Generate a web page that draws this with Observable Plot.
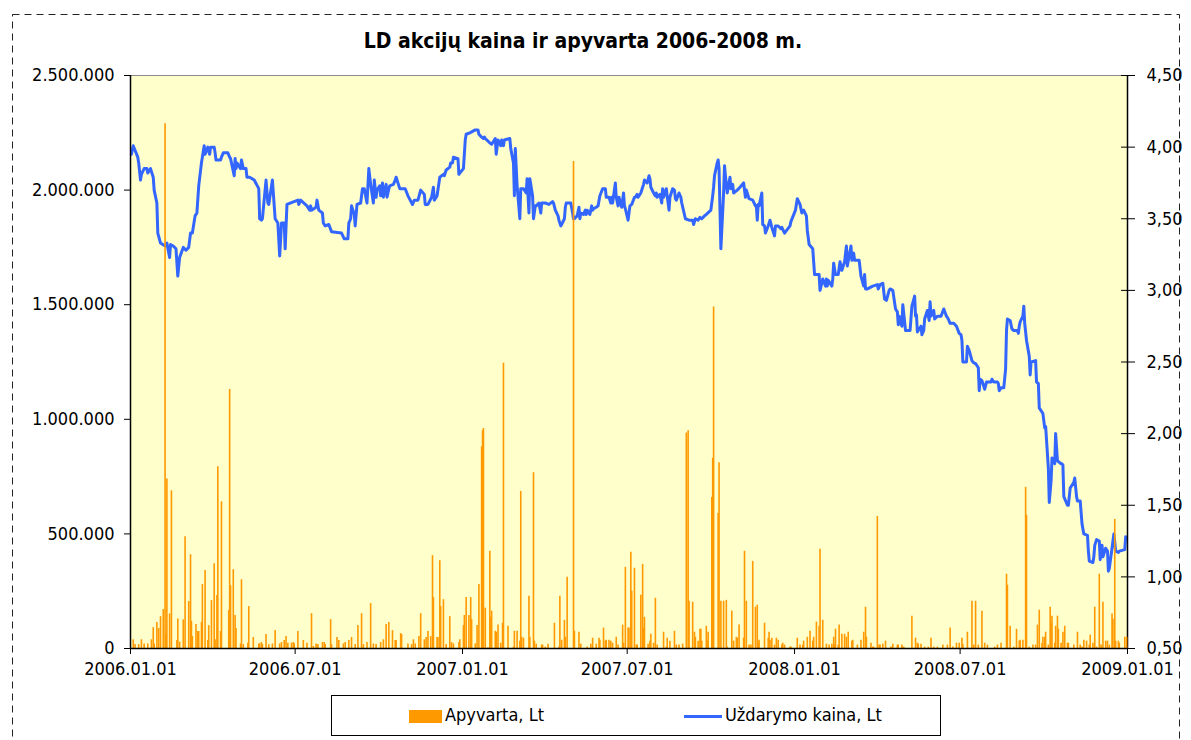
<!DOCTYPE html>
<html>
<head>
<meta charset="utf-8">
<script src="https://cdn.jsdelivr.net/npm/d3@7"></script>
<script src="https://cdn.jsdelivr.net/npm/@observablehq/plot@0.6"></script>
<style>
  html, body { margin: 0; padding: 0; background: #fff; }
  #wrap { position: relative; width: 1191px; height: 740px; overflow: hidden;
          font-family: "DejaVu Sans Condensed", "Liberation Sans", sans-serif; color: #000; }
  #border { position: absolute; left: 0; top: 0; }
  #title { position: absolute; left: 0; width: 1166px; top: 29px; line-height: 24px;
           text-align: center; font-weight: bold; font-size: 21px; }
  .layer { position: absolute; left: 0; top: 0; }
  #legend { position: absolute; left: 331px; top: 695px; width: 608px; height: 39px;
            border: 1px solid #000; background: #fff; font-size: 18px; }
  #legend .sw { position: absolute; left: 77px; top: 14px; width: 33px; height: 13px; background: #FF9900; }
  #legend .ln { position: absolute; left: 352px; top: 19px; width: 38px; height: 3px; background: #3366FF; }
  #legend .t { position: absolute; top: 8px; line-height: 22px; white-space: nowrap; }
</style>
</head>
<body>
<div id="wrap">
  <div id="title">LD akcijų kaina ir apyvarta 2006-2008 m.</div>
  <div id="legend">
    <span class="sw"></span><span class="t" style="left:113px">Apyvarta, Lt</span>
    <span class="ln"></span><span class="t" style="left:393px">Uždarymo kaina, Lt</span>
  </div>
</div>
<script>
// ---------------- data ----------------
const xTicks = ["2006-01-01","2006-07-01","2007-01-01","2007-07-01","2008-01-01","2008-07-01","2009-01-01"];
const volTicks = [0, 500000, 1000000, 1500000, 2000000, 2500000];
const priceTicks = [0.5, 1.0, 1.5, 2.0, 2.5, 3.0, 3.5, 4.0, 4.5];

// Daily turnover, Lt (Apyvarta)
const turnover2006 = [
["2006-01-04",38000],["2006-01-06",17000],["2006-01-10",17000],["2006-01-13",38000],["2006-01-16",20000],["2006-01-20",20000],["2006-01-24",38000],["2006-01-26",91000],["2006-01-27",20000],["2006-01-30",113000],["2006-02-01",87000],["2006-02-03",139000],["2006-02-06",170000],["2006-02-08",2290000],["2006-02-09",61000],["2006-02-10",740000],["2006-02-13",151000],["2006-02-15",688000],["2006-02-21",35000],["2006-02-22",129000],["2006-02-24",28000],["2006-02-28",125000],["2006-03-02",488000],["2006-03-06",205000],["2006-03-08",409000],["2006-03-09",118000],["2006-03-10",52000],["2006-03-14",105000],["2006-03-16",74000],["2006-03-17",74000],["2006-03-20",113000],["2006-03-21",279000],["2006-03-24",340000],["2006-03-27",35000],["2006-03-28",100000],["2006-03-31",209000],["2006-04-03",370000],["2006-04-04",38000],["2006-04-06",231000],["2006-04-07",793000],["2006-04-10",74000],["2006-04-11",640000],["2006-04-19",166000],["2006-04-20",1130000],["2006-04-21",274000],["2006-04-24",344000],["2006-04-26",144000],["2006-04-27",87000],["2006-05-02",20000],["2006-05-03",300000],["2006-05-05",17000],["2006-05-10",23000],["2006-05-11",183000],["2006-05-16",48000],["2006-05-22",20000],["2006-05-23",20000],["2006-05-25",26000],["2006-05-26",17000],["2006-05-30",61000],["2006-06-02",17000],["2006-06-06",20000],["2006-06-09",78000],["2006-06-14",20000],["2006-06-16",26000],["2006-06-19",35000],["2006-06-21",52000],["2006-06-23",23000],["2006-06-27",23000],["2006-06-29",26000],["2006-06-30",20000],["2006-07-04",74000],["2006-07-10",35000],["2006-07-14",23000],["2006-07-19",152000],["2006-07-21",9000],["2006-07-24",20000],["2006-07-26",17000],["2006-07-31",26000],["2006-08-02",26000],["2006-08-03",17000],["2006-08-09",126000],["2006-08-10",17000],["2006-08-16",48000],["2006-08-18",35000],["2006-08-23",20000],["2006-08-25",26000],["2006-08-29",35000],["2006-09-01",48000],["2006-09-05",17000],["2006-09-08",100000],["2006-09-12",152000],["2006-09-14",17000],["2006-09-18",26000],["2006-09-22",196000],["2006-09-25",20000],["2006-09-28",17000],["2006-10-03",26000],["2006-10-06",38000],["2006-10-09",105000],["2006-10-12",113000],["2006-10-16",78000],["2006-10-19",35000],["2006-10-20",35000],["2006-10-25",65000],["2006-10-26",61000],["2006-11-02",20000],["2006-11-06",17000],["2006-11-08",38000],["2006-11-10",20000],["2006-11-14",52000],["2006-11-16",152000],["2006-11-20",38000],["2006-11-22",48000],["2006-11-24",74000],["2006-11-27",52000],["2006-11-29",405000],["2006-11-30",222000],["2006-12-04",48000],["2006-12-05",48000],["2006-12-07",383000],["2006-12-08",183000],["2006-12-11",213000],["2006-12-14",17000],["2006-12-18",139000],["2006-12-20",26000],["2006-12-22",20000],["2006-12-28",26000],["2006-12-29",38000]
];
const turnover2007 = [
["2007-01-02",100000],["2007-01-03",144000],["2007-01-05",222000],["2007-01-08",144000],["2007-01-10",222000],["2007-01-11",126000],["2007-01-15",20000],["2007-01-17",100000],["2007-01-19",279000],["2007-01-22",880000],["2007-01-23",950000],["2007-01-24",960000],["2007-01-26",176000],["2007-01-29",3000],["2007-01-31",424000],["2007-02-01",136000],["2007-02-02",163000],["2007-02-06",75000],["2007-02-07",71000],["2007-02-09",102000],["2007-02-12",23000],["2007-02-14",110000],["2007-02-15",1245000],["2007-02-20",97000],["2007-02-26",6000],["2007-02-27",75000],["2007-03-02",75000],["2007-03-05",32000],["2007-03-06",685000],["2007-03-07",49000],["2007-03-09",45000],["2007-03-15",228000],["2007-03-16",49000],["2007-03-20",767000],["2007-03-21",32000],["2007-03-23",19000],["2007-03-29",15000],["2007-03-30",15000],["2007-04-02",6000],["2007-04-05",19000],["2007-04-12",110000],["2007-04-17",6000],["2007-04-18",228000],["2007-04-20",36000],["2007-04-23",123000],["2007-04-24",49000],["2007-04-26",311000],["2007-05-03",2125000],["2007-05-04",75000],["2007-05-09",71000],["2007-05-11",19000],["2007-05-18",6000],["2007-05-22",19000],["2007-05-24",45000],["2007-05-28",19000],["2007-05-31",45000],["2007-06-01",36000],["2007-06-05",89000],["2007-06-07",32000],["2007-06-08",36000],["2007-06-11",36000],["2007-06-13",32000],["2007-06-15",23000],["2007-06-19",49000],["2007-06-21",15000],["2007-06-26",102000],["2007-06-27",23000],["2007-06-29",354000],["2007-07-02",89000],["2007-07-03",89000],["2007-07-05",420000],["2007-07-06",250000],["2007-07-09",350000],["2007-07-11",15000],["2007-07-12",15000],["2007-07-16",232000],["2007-07-18",367000],["2007-07-19",89000],["2007-07-20",136000],["2007-07-24",19000],["2007-07-26",32000],["2007-07-27",62000],["2007-07-30",23000],["2007-08-01",219000],["2007-08-03",15000],["2007-08-10",71000],["2007-08-13",6000],["2007-08-14",45000],["2007-08-17",32000],["2007-08-22",75000],["2007-08-24",15000],["2007-08-27",15000],["2007-08-31",19000],["2007-09-04",940000],["2007-09-06",950000],["2007-09-07",206000],["2007-09-11",202000],["2007-09-13",71000],["2007-09-14",49000],["2007-09-17",32000],["2007-09-19",84000],["2007-09-20",84000],["2007-09-21",32000],["2007-09-26",97000],["2007-09-27",32000],["2007-09-28",71000],["2007-10-02",659000],["2007-10-03",830000],["2007-10-04",1490000],["2007-10-09",589000],["2007-10-10",810000],["2007-10-12",206000],["2007-10-15",206000],["2007-10-18",210000],["2007-10-19",6000],["2007-10-24",163000],["2007-10-26",32000],["2007-10-29",49000],["2007-10-30",45000],["2007-11-01",102000],["2007-11-06",45000],["2007-11-07",424000],["2007-11-09",206000],["2007-11-12",15000],["2007-11-14",15000],["2007-11-16",380000],["2007-11-19",180000],["2007-11-21",189000],["2007-11-22",23000],["2007-11-23",36000],["2007-11-29",110000],["2007-12-03",45000],["2007-12-04",71000],["2007-12-05",36000],["2007-12-07",45000],["2007-12-10",15000],["2007-12-12",45000],["2007-12-14",36000],["2007-12-18",15000],["2007-12-19",23000],["2007-12-21",15000],["2007-12-27",6000],["2007-12-28",6000]
];
const turnover2008 = [
["2008-01-04",45000],["2008-01-07",15000],["2008-01-10",15000],["2008-01-11",32000],["2008-01-15",49000],["2008-01-18",75000],["2008-01-21",32000],["2008-01-22",49000],["2008-01-25",115000],["2008-01-28",97000],["2008-01-29",433000],["2008-02-01",123000],["2008-02-05",19000],["2008-02-08",15000],["2008-02-11",19000],["2008-02-13",49000],["2008-02-14",15000],["2008-02-15",84000],["2008-02-18",15000],["2008-02-19",102000],["2008-02-22",62000],["2008-02-25",62000],["2008-02-27",49000],["2008-02-29",71000],["2008-03-04",32000],["2008-03-05",36000],["2008-03-10",15000],["2008-03-14",36000],["2008-03-17",71000],["2008-03-19",180000],["2008-03-20",49000],["2008-03-25",23000],["2008-03-27",6000],["2008-03-28",6000],["2008-04-01",576000],["2008-04-03",15000],["2008-04-04",15000],["2008-04-07",19000],["2008-04-10",32000],["2008-04-16",6000],["2008-04-18",19000],["2008-04-23",15000],["2008-04-24",15000],["2008-04-28",15000],["2008-04-30",6000],["2008-05-09",141000],["2008-05-13",45000],["2008-05-15",23000],["2008-05-16",19000],["2008-05-19",19000],["2008-05-23",6000],["2008-05-27",6000],["2008-05-30",45000],["2008-06-02",6000],["2008-06-06",6000],["2008-06-12",15000],["2008-06-17",15000],["2008-06-20",89000],["2008-06-23",6000],["2008-06-27",23000],["2008-06-30",23000],["2008-07-03",45000],["2008-07-04",19000],["2008-07-09",71000],["2008-07-14",206000],["2008-07-16",15000],["2008-07-18",206000],["2008-07-21",15000],["2008-07-25",163000],["2008-07-28",23000],["2008-07-31",15000],["2008-08-08",6000],["2008-08-11",15000],["2008-08-15",23000],["2008-08-21",324000],["2008-08-22",276000],["2008-08-25",97000],["2008-08-29",6000],["2008-09-01",84000],["2008-09-04",32000],["2008-09-05",36000],["2008-09-08",36000],["2008-09-11",703000],["2008-09-12",581000],["2008-09-15",6000],["2008-09-19",15000],["2008-09-22",15000],["2008-09-24",102000],["2008-09-26",167000],["2008-09-29",23000],["2008-09-30",49000],["2008-10-02",49000],["2008-10-03",71000],["2008-10-06",15000],["2008-10-08",180000],["2008-10-09",110000],["2008-10-10",141000],["2008-10-13",23000],["2008-10-14",97000],["2008-10-16",141000],["2008-10-17",84000],["2008-10-20",23000],["2008-10-22",71000],["2008-10-24",97000],["2008-10-27",23000],["2008-10-28",23000],["2008-11-03",15000],["2008-11-07",71000],["2008-11-10",15000],["2008-11-12",6000],["2008-11-14",36000],["2008-11-17",32000],["2008-11-20",15000],["2008-11-21",58000],["2008-11-24",23000],["2008-11-26",180000],["2008-11-28",6000],["2008-12-01",324000],["2008-12-03",15000],["2008-12-05",202000],["2008-12-08",32000],["2008-12-10",32000],["2008-12-12",15000],["2008-12-15",150000],["2008-12-16",128000],["2008-12-18",563000],["2008-12-19",32000],["2008-12-22",32000],["2008-12-23",23000],["2008-12-29",49000],["2008-12-31",49000]
];

// Closing price, Lt (Uždarymo kaina)
const close2006 = [
["2006-01-02",3.95],["2006-01-04",4.01],["2006-01-09",3.93],["2006-01-10",3.89],["2006-01-12",3.77],["2006-01-13",3.81],["2006-01-16",3.85],["2006-01-19",3.85],["2006-01-20",3.82],["2006-01-23",3.85],["2006-01-26",3.79],["2006-01-27",3.70],["2006-01-30",3.61],["2006-01-31",3.40],["2006-02-03",3.33],["2006-02-08",3.31],["2006-02-10",3.33],["2006-02-13",3.23],["2006-02-14",3.32],["2006-02-17",3.31],["2006-02-20",3.29],["2006-02-22",3.10],["2006-02-24",3.23],["2006-02-28",3.30],["2006-03-03",3.28],["2006-03-06",3.30],["2006-03-08",3.40],["2006-03-10",3.40],["2006-03-13",3.52],["2006-03-15",3.54],["2006-03-17",3.73],["2006-03-20",3.89],["2006-03-23",4.01],["2006-03-24",3.95],["2006-03-27",4.00],["2006-03-29",3.95],["2006-03-30",4.00],["2006-04-03",4.00],["2006-04-04",3.96],["2006-04-05",3.91],["2006-04-10",3.91],["2006-04-11",3.93],["2006-04-13",3.96],["2006-04-18",3.96],["2006-04-20",3.93],["2006-04-21",3.92],["2006-04-25",3.80],["2006-04-26",3.92],["2006-04-27",3.85],["2006-04-28",3.89],["2006-05-02",3.85],["2006-05-03",3.91],["2006-05-05",3.85],["2006-05-08",3.85],["2006-05-09",3.79],["2006-05-12",3.79],["2006-05-17",3.77],["2006-05-22",3.71],["2006-05-23",3.50],["2006-05-25",3.49],["2006-05-26",3.50],["2006-05-30",3.77],["2006-06-01",3.61],["2006-06-02",3.60],["2006-06-06",3.77],["2006-06-08",3.59],["2006-06-09",3.50],["2006-06-12",3.47],["2006-06-14",3.24],["2006-06-16",3.47],["2006-06-19",3.47],["2006-06-20",3.29],["2006-06-22",3.60],["2006-07-04",3.63],["2006-07-05",3.60],["2006-07-07",3.63],["2006-07-14",3.59],["2006-07-17",3.56],["2006-07-18",3.59],["2006-07-19",3.56],["2006-07-24",3.58],["2006-07-25",3.63],["2006-07-27",3.56],["2006-07-31",3.54],["2006-08-01",3.47],["2006-08-03",3.45],["2006-08-07",3.46],["2006-08-10",3.41],["2006-08-21",3.40],["2006-08-24",3.36],["2006-08-28",3.36],["2006-08-29",3.47],["2006-08-31",3.50],["2006-09-01",3.59],["2006-09-04",3.53],["2006-09-05",3.45],["2006-09-07",3.60],["2006-09-11",3.61],["2006-09-13",3.71],["2006-09-15",3.71],["2006-09-18",3.61],["2006-09-20",3.85],["2006-09-22",3.74],["2006-09-25",3.61],["2006-09-26",3.77],["2006-09-28",3.65],["2006-09-29",3.70],["2006-10-02",3.73],["2006-10-03",3.66],["2006-10-05",3.75],["2006-10-06",3.65],["2006-10-09",3.74],["2006-10-10",3.65],["2006-10-12",3.71],["2006-10-13",3.73],["2006-10-17",3.74],["2006-10-19",3.77],["2006-10-20",3.79],["2006-10-24",3.71],["2006-10-30",3.71],["2006-11-02",3.66],["2006-11-07",3.60],["2006-11-09",3.63],["2006-11-13",3.63],["2006-11-16",3.70],["2006-11-20",3.67],["2006-11-21",3.60],["2006-11-24",3.60],["2006-11-28",3.65],["2006-11-30",3.72],["2006-12-01",3.63],["2006-12-04",3.66],["2006-12-07",3.79],["2006-12-11",3.81],["2006-12-12",3.80],["2006-12-14",3.84],["2006-12-18",3.86],["2006-12-19",3.89],["2006-12-21",3.89],["2006-12-22",3.93],["2006-12-27",3.92],["2006-12-28",3.81],["2006-12-29",3.82]
];
const close2007 = [
["2007-01-02",3.85],["2007-01-04",4.05],["2007-01-05",4.09],["2007-01-09",4.10],["2007-01-15",4.12],["2007-01-18",4.12],["2007-01-19",4.09],["2007-01-22",4.07],["2007-01-24",4.06],["2007-01-25",4.07],["2007-01-26",4.06],["2007-01-31",4.03],["2007-02-02",4.02],["2007-02-05",4.05],["2007-02-06",4.06],["2007-02-07",3.95],["2007-02-09",4.05],["2007-02-12",4.01],["2007-02-13",4.05],["2007-02-15",4.01],["2007-02-16",4.05],["2007-02-22",4.06],["2007-02-23",3.99],["2007-02-26",3.89],["2007-02-27",3.66],["2007-02-28",3.99],["2007-03-02",3.73],["2007-03-05",3.50],["2007-03-06",3.71],["2007-03-09",3.71],["2007-03-12",3.68],["2007-03-13",3.78],["2007-03-15",3.54],["2007-03-16",3.78],["2007-03-19",3.66],["2007-03-20",3.50],["2007-03-22",3.59],["2007-03-23",3.59],["2007-03-26",3.61],["2007-03-28",3.54],["2007-03-29",3.61],["2007-04-02",3.61],["2007-04-06",3.60],["2007-04-10",3.62],["2007-04-11",3.61],["2007-04-13",3.56],["2007-04-16",3.52],["2007-04-17",3.49],["2007-04-19",3.45],["2007-04-20",3.46],["2007-04-23",3.50],["2007-04-24",3.58],["2007-04-25",3.61],["2007-04-30",3.61],["2007-05-02",3.54],["2007-05-03",3.50],["2007-05-04",3.50],["2007-05-07",3.52],["2007-05-09",3.58],["2007-05-10",3.50],["2007-05-11",3.54],["2007-05-14",3.53],["2007-05-16",3.56],["2007-05-17",3.53],["2007-05-18",3.56],["2007-05-21",3.53],["2007-05-23",3.59],["2007-05-24",3.56],["2007-05-25",3.57],["2007-05-28",3.58],["2007-05-30",3.59],["2007-06-01",3.66],["2007-06-04",3.71],["2007-06-07",3.71],["2007-06-08",3.65],["2007-06-11",3.65],["2007-06-13",3.61],["2007-06-14",3.65],["2007-06-15",3.61],["2007-06-18",3.75],["2007-06-19",3.65],["2007-06-21",3.59],["2007-06-22",3.65],["2007-06-25",3.58],["2007-06-27",3.68],["2007-06-28",3.59],["2007-06-29",3.57],["2007-07-02",3.49],["2007-07-04",3.59],["2007-07-06",3.60],["2007-07-09",3.65],["2007-07-10",3.65],["2007-07-12",3.67],["2007-07-13",3.65],["2007-07-16",3.68],["2007-07-18",3.72],["2007-07-19",3.74],["2007-07-20",3.77],["2007-07-23",3.75],["2007-07-25",3.80],["2007-07-26",3.78],["2007-07-27",3.72],["2007-07-30",3.68],["2007-08-01",3.66],["2007-08-02",3.68],["2007-08-03",3.65],["2007-08-06",3.67],["2007-08-08",3.61],["2007-08-09",3.71],["2007-08-10",3.65],["2007-08-13",3.71],["2007-08-15",3.61],["2007-08-16",3.56],["2007-08-17",3.65],["2007-08-20",3.71],["2007-08-22",3.70],["2007-08-23",3.64],["2007-08-24",3.63],["2007-08-27",3.68],["2007-08-29",3.65],["2007-08-30",3.61],["2007-09-03",3.50],["2007-09-07",3.49],["2007-09-11",3.49],["2007-09-12",3.46],["2007-09-14",3.50],["2007-09-17",3.49],["2007-09-19",3.51],["2007-09-21",3.50],["2007-09-24",3.52],["2007-09-26",3.53],["2007-10-01",3.56],["2007-10-03",3.66],["2007-10-04",3.72],["2007-10-05",3.80],["2007-10-08",3.89],["2007-10-09",3.91],["2007-10-10",3.85],["2007-10-12",3.29],["2007-10-15",3.68],["2007-10-16",3.87],["2007-10-17",3.80],["2007-10-19",3.68],["2007-10-22",3.79],["2007-10-23",3.71],["2007-10-25",3.74],["2007-10-26",3.68],["2007-10-30",3.70],["2007-11-02",3.72],["2007-11-06",3.75],["2007-11-08",3.65],["2007-11-09",3.70],["2007-11-12",3.64],["2007-11-16",3.63],["2007-11-19",3.59],["2007-11-20",3.59],["2007-11-21",3.49],["2007-11-22",3.60],["2007-11-23",3.59],["2007-11-26",3.68],["2007-11-27",3.46],["2007-11-29",3.45],["2007-11-30",3.40],["2007-12-03",3.45],["2007-12-05",3.49],["2007-12-07",3.44],["2007-12-10",3.38],["2007-12-11",3.45],["2007-12-14",3.45],["2007-12-17",3.43],["2007-12-18",3.44],["2007-12-21",3.40],["2007-12-27",3.45],["2007-12-28",3.48]
];
const close2008 = [
["2008-01-02",3.56],["2008-01-04",3.64],["2008-01-07",3.60],["2008-01-09",3.54],["2008-01-11",3.56],["2008-01-14",3.52],["2008-01-15",3.42],["2008-01-17",3.32],["2008-01-21",3.29],["2008-01-23",3.11],["2008-01-24",3.11],["2008-01-28",3.11],["2008-01-29",3.00],["2008-02-01",3.08],["2008-02-04",3.03],["2008-02-05",3.08],["2008-02-06",3.03],["2008-02-07",3.07],["2008-02-11",3.03],["2008-02-12",3.08],["2008-02-13",3.19],["2008-02-15",3.11],["2008-02-18",3.11],["2008-02-20",3.20],["2008-02-22",3.14],["2008-02-25",3.20],["2008-02-27",3.31],["2008-02-28",3.17],["2008-03-03",3.31],["2008-03-04",3.21],["2008-03-06",3.26],["2008-03-07",3.21],["2008-03-12",3.21],["2008-03-14",3.10],["2008-03-17",3.03],["2008-03-18",3.11],["2008-03-19",3.01],["2008-03-21",3.01],["2008-03-27",3.03],["2008-04-01",3.04],["2008-04-02",3.01],["2008-04-04",3.04],["2008-04-07",3.05],["2008-04-09",2.94],["2008-04-11",2.93],["2008-04-14",3.00],["2008-04-15",3.01],["2008-04-18",3.00],["2008-04-21",2.87],["2008-04-23",2.85],["2008-04-24",2.76],["2008-04-25",2.82],["2008-04-28",2.75],["2008-04-29",2.90],["2008-05-02",2.72],["2008-05-07",2.72],["2008-05-09",2.89],["2008-05-12",2.96],["2008-05-13",2.82],["2008-05-14",2.83],["2008-05-15",2.71],["2008-05-19",2.75],["2008-05-20",2.69],["2008-05-22",2.72],["2008-05-23",2.80],["2008-05-26",2.86],["2008-05-28",2.79],["2008-05-29",2.92],["2008-05-30",2.82],["2008-06-02",2.86],["2008-06-03",2.80],["2008-06-06",2.82],["2008-06-10",2.82],["2008-06-13",2.87],["2008-06-16",2.82],["2008-06-18",2.80],["2008-06-20",2.77],["2008-06-24",2.77],["2008-06-27",2.75],["2008-06-30",2.70],["2008-07-02",2.69],["2008-07-03",2.65],["2008-07-04",2.50],["2008-07-08",2.50],["2008-07-09",2.61],["2008-07-11",2.58],["2008-07-14",2.51],["2008-07-15",2.50],["2008-07-17",2.49],["2008-07-18",2.49],["2008-07-21",2.46],["2008-07-22",2.30],["2008-07-23",2.38],["2008-07-25",2.37],["2008-07-28",2.31],["2008-07-30",2.36],["2008-08-04",2.36],["2008-08-05",2.38],["2008-08-07",2.36],["2008-08-11",2.36],["2008-08-12",2.35],["2008-08-13",2.30],["2008-08-15",2.32],["2008-08-18",2.32],["2008-08-20",2.45],["2008-08-21",2.72],["2008-08-22",2.80],["2008-08-25",2.79],["2008-08-27",2.73],["2008-08-29",2.72],["2008-09-02",2.72],["2008-09-03",2.70],["2008-09-04",2.75],["2008-09-05",2.78],["2008-09-08",2.82],["2008-09-09",2.89],["2008-09-10",2.77],["2008-09-12",2.65],["2008-09-15",2.54],["2008-09-16",2.41],["2008-09-17",2.50],["2008-09-22",2.51],["2008-09-23",2.36],["2008-09-25",2.35],["2008-09-26",2.18],["2008-09-30",2.14],["2008-10-02",2.04],["2008-10-03",2.05],["2008-10-06",1.76],["2008-10-07",1.52],["2008-10-09",1.67],["2008-10-10",1.83],["2008-10-13",1.79],["2008-10-14",2.00],["2008-10-16",1.81],["2008-10-20",1.79],["2008-10-21",1.79],["2008-10-22",1.78],["2008-10-23",1.56],["2008-10-27",1.50],["2008-10-28",1.50],["2008-10-30",1.62],["2008-11-03",1.66],["2008-11-04",1.69],["2008-11-06",1.56],["2008-11-07",1.53],["2008-11-10",1.53],["2008-11-12",1.37],["2008-11-14",1.30],["2008-11-18",1.29],["2008-11-19",1.18],["2008-11-20",1.11],["2008-11-24",1.10],["2008-11-25",1.14],["2008-11-26",1.22],["2008-11-28",1.26],["2008-12-01",1.25],["2008-12-02",1.12],["2008-12-04",1.22],["2008-12-05",1.14],["2008-12-08",1.20],["2008-12-10",1.18],["2008-12-11",1.04],["2008-12-12",1.06],["2008-12-15",1.20],["2008-12-17",1.30],["2008-12-18",1.24],["2008-12-19",1.18],["2008-12-22",1.17],["2008-12-23",1.18],["2008-12-29",1.19],["2008-12-30",1.28]
];

// ---------------- build ----------------
const parse = d3.utcParse("%Y-%m-%d");
const loc = d3.formatLocale({decimal: ",", thousands: ".", grouping: [3], currency: ["", ""]});
const fmtVol = loc.format(",");
const fmtPrice = loc.format(".2f");

const turnover = [...turnover2006, ...turnover2007, ...turnover2008].map(([d, v]) => ({date: parse(d), value: v}));
const closing = [...close2006, ...close2007, ...close2008].map(([d, v]) => ({date: parse(d), price: v}));
const xTickDates = xTicks.map(parse);
const xStart = xTickDates[0], xEnd = xTickDates[xTickDates.length - 1];

const FONT = '"DejaVu Sans Condensed", "Liberation Sans", sans-serif';
const common = {
  width: 1191, height: 690,
  marginLeft: 130, marginRight: 64, marginTop: 75, marginBottom: 42,
  style: {fontFamily: FONT, fontSize: "18px", color: "#000", background: "transparent", overflow: "visible"}
};

// Bottom layer: plot background, price line, right axis
const pricePlot = Plot.plot({
  ...common,
  x: {type: "utc", domain: [xStart, xEnd], axis: null},
  y: {domain: [priceTicks[0], priceTicks[priceTicks.length - 1]]},
  marks: [
    Plot.frame({fill: "#FFFFCC", stroke: "#8c8c8c"}),
    Plot.lineY(closing, {x: "date", y: "price", stroke: "#3366FF", strokeWidth: 3, strokeLinejoin: "round"}),
    Plot.axisY({anchor: "right", ticks: priceTicks, tickFormat: fmtPrice, tickSize: 7, tickPadding: 12, label: null, stroke: "#000"}),
    // inner half of the crossing tick marks
    Plot.ruleY(priceTicks, {x1: xEnd, x2: xEnd, insetLeft: -6, stroke: "#000"}),
    Plot.ruleX([xEnd], {stroke: "#000", strokeWidth: 1.5})
  ]
});

// Top layer: turnover bars, left + bottom axes
const volPlot = Plot.plot({
  ...common,
  x: {type: "utc", domain: [xStart, xEnd]},
  y: {domain: [volTicks[0], volTicks[volTicks.length - 1]]},
  marks: [
    Plot.ruleX(turnover, {x: "date", y1: 0, y2: "value", stroke: "#FF9900", strokeWidth: 1.6}),
    Plot.axisY({ticks: volTicks, tickFormat: fmtVol, tickSize: 6, tickPadding: 10, label: null, stroke: "#000"}),
    Plot.axisX({ticks: xTickDates, tickFormat: d3.utcFormat("%Y.%m.%d"), tickSize: 6, tickPadding: 8, label: null, stroke: "#000"}),
    Plot.ruleY([volTicks[0]], {stroke: "#000", strokeWidth: 1.5}),
    Plot.ruleX([xStart], {stroke: "#000", strokeWidth: 1.5})
  ]
});

const wrap = document.getElementById("wrap");
pricePlot.classList.add("layer");
volPlot.classList.add("layer");
wrap.insertBefore(volPlot, wrap.firstChild);
wrap.insertBefore(pricePlot, wrap.firstChild);

// dashed outer chart-area border
const ns = "http://www.w3.org/2000/svg";
const b = document.createElementNS(ns, "svg");
b.setAttribute("id", "border");
b.setAttribute("width", 1191); b.setAttribute("height", 740);
const r = document.createElementNS(ns, "rect");
r.setAttribute("x", 12.5); r.setAttribute("y", 14.5);
r.setAttribute("width", 1167); r.setAttribute("height", 760);
r.setAttribute("fill", "none"); r.setAttribute("stroke", "#222");
r.setAttribute("stroke-dasharray", "7 5");
b.appendChild(r);
wrap.insertBefore(b, wrap.firstChild);
</script>
</body>
</html>
